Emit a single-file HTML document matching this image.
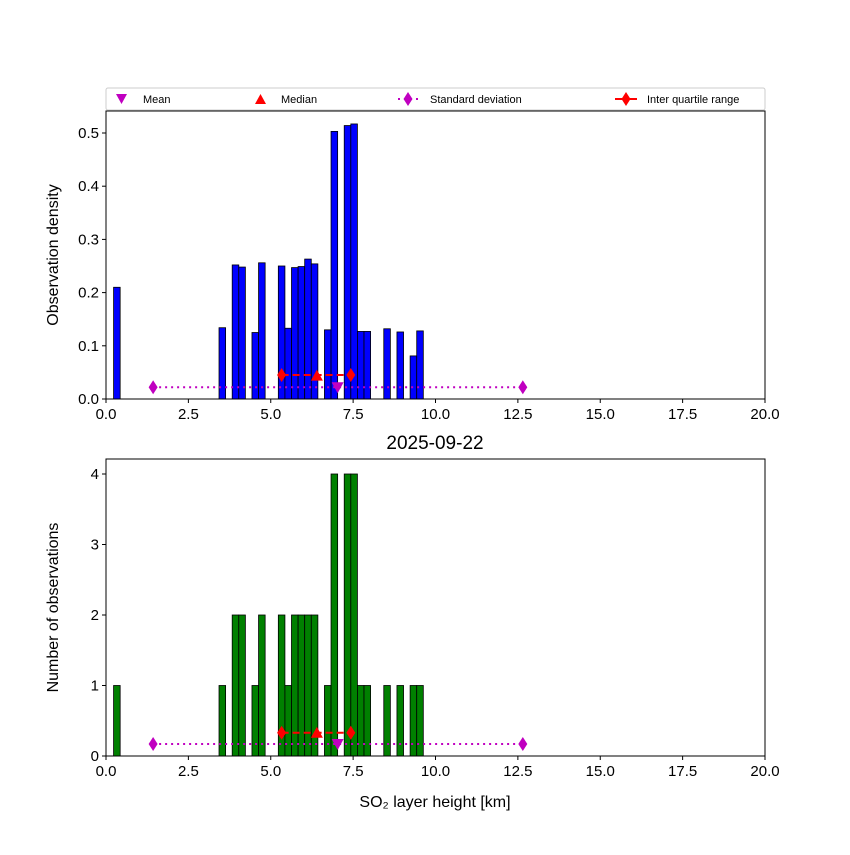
<!DOCTYPE html>
<html><head><meta charset="utf-8"><style>
body{margin:0;background:#fff}
svg{font-family:"Liberation Sans","DejaVu Sans",sans-serif}
</style></head><body>
<svg id="c" width="850" height="850" xmlns="http://www.w3.org/2000/svg"></svg>
<script>
const binEdges=[0.23,3.43,3.83,4.03,4.43,4.63,5.23,5.43,5.63,5.83,6.03,6.23,6.63,6.83,7.23,7.43,7.63,7.83,8.43,8.83,9.23,9.43];
const counts=[1,1,2,2,1,2,2,1,2,2,2,2,1,4,4,4,1,1,1,1,1,1];
const densities=[0.21,0.134,0.252,0.248,0.125,0.256,0.25,0.133,0.247,0.249,0.263,0.254,0.13,0.503,0.514,0.517,0.127,0.127,0.132,0.126,0.081,0.128];
const binWidth=0.2;
const xTicks=[0,2.5,5,7.5,10,12.5,15,17.5,20];
const xTickLabels=["0.0","2.5","5.0","7.5","10.0","12.5","15.0","17.5","20.0"];
const yTicksTop=[0,0.1,0.2,0.3,0.4,0.5];
const yTicksBot=[0,1,2,3,4];
const stats={mean:7.03,median:6.4,q1:5.33,q3:7.43,sdLo:1.43,sdHi:12.65};
const statYTop={mean:0.022,median:0.044,iqr:0.045,sd:0.022};
const statYBot={mean:0.17,median:0.33,iqr:0.33,sd:0.17};

const svg=document.getElementById('c');
const NS="http://www.w3.org/2000/svg";
function el(t,a,p){const e=document.createElementNS(NS,t);for(const k in a)e.setAttribute(k,a[k]);(p||svg).appendChild(e);return e;}
const X0=106,X1=765;
const xs=v=>X0+(v/20)*(X1-X0);

function panel(name,yT,yB,ymax,vals,color,ticks,tickFmt,ylabel,sy){
  const g=el('g',{});
  
  
  const ys=v=>yB-(v/ymax)*(yB-yT);
  binEdges.forEach((b,i)=>{
    const r=el('rect',{x:xs(b),y:ys(vals[i]),width:xs(b+binWidth)-xs(b),height:yB-ys(vals[i]),fill:color,stroke:'#000','stroke-width':0.8},g);
    
    
  });
  const sdl=el('line',{x1:xs(stats.sdLo),x2:xs(stats.sdHi),y1:ys(sy.sd),y2:ys(sy.sd),stroke:'#c000c0','stroke-width':2,'stroke-dasharray':'2,4'},g);
  
  
  [stats.sdLo,stats.sdHi].forEach(v=>{const d=el('path',{d:diamond(xs(v),ys(sy.sd)),fill:'#c000c0'},g);
    });
  const iq=el('line',{x1:xs(stats.q1),x2:xs(stats.q3),y1:ys(sy.iqr),y2:ys(sy.iqr),stroke:'#f00','stroke-width':2,'stroke-dasharray':'7,4'},g);
  
  
  [stats.q1,stats.q3].forEach(v=>{const d=el('path',{d:diamond(xs(v),ys(sy.iqr)),fill:'#f00'},g);
    });
  const mx=xs(stats.median),my=ys(sy.median);
  const md=el('path',{d:`M${mx-6},${my+5}L${mx+6},${my+5}L${mx},${my-6}Z`,fill:'#f00'},g);
  
  
  const ex=xs(stats.mean),ey=ys(sy.mean);
  const mn=el('path',{d:`M${ex-6},${ey-5}L${ex+6},${ey-5}L${ex},${ey+6}Z`,fill:'#c000c0'},g);
  
  
  el('rect',{x:X0,y:yT,width:X1-X0,height:yB-yT,fill:'none',stroke:'#000','stroke-width':1},g);
  xTicks.forEach((t,i)=>{
    el('line',{x1:xs(t),x2:xs(t),y1:yB,y2:yB+4,stroke:'#000'},g);
    const tx=el('text',{x:xs(t),y:yB+20,'text-anchor':'middle','font-size':15},g);tx.textContent=xTickLabels[i];
    
  });
  ticks.forEach(t=>{
    el('line',{x1:X0-4,x2:X0,y1:ys(t),y2:ys(t),stroke:'#000'},g);
    const tx=el('text',{x:X0-7,y:ys(t)+5,'text-anchor':'end','font-size':15},g);tx.textContent=tickFmt(t);
    
  });
  const yl=el('text',{x:0,y:0,'text-anchor':'middle','font-size':16,transform:`translate(58,${(yT+yB)/2}) rotate(-90)`},g);
  yl.textContent=ylabel;
  
  
}
function diamond(x,y){return `M${x},${y-7}L${x+4.5},${y}L${x},${y+7}L${x-4.5},${y}Z`;}

panel('density-panel',111,399,0.5/((399-133)/(399-111)),densities,'#0000ff',yTicksTop,t=>t.toFixed(1),'Observation density',statYTop);
panel('count-panel',459,756,4/((756-474)/(756-459)),counts,'#008000',yTicksBot,t=>String(t),'Number of observations',statYBot);

const ti=el('text',{x:435,y:449,'text-anchor':'middle','font-size':19});
ti.textContent='2025-09-22';


const xl=el('text',{x:435,y:807,'text-anchor':'middle','font-size':16});
xl.textContent='SO₂ layer height [km]';



const lg=el('g',{});


el('rect',{x:106,y:88,width:659,height:22,rx:2,fill:'#fff',stroke:'#ccc'},lg);
function lt(x,s,name){const t=el('text',{x:x,y:103,'font-size':11},lg);t.textContent=s;
  }
el('path',{d:'M116,94L127,94L121.5,104Z',fill:'#c000c0'},lg);lt(143,'Mean','legend-mean');
el('path',{d:'M255,104L266,104L260.5,94Z',fill:'#f00'},lg);lt(281,'Median','legend-median');
el('line',{x1:398,x2:418,y1:99,y2:99,stroke:'#c000c0','stroke-width':2,'stroke-dasharray':'2,4'},lg);
el('path',{d:diamond(408,99),fill:'#c000c0'},lg);lt(430,'Standard deviation','legend-std-dev');
el('line',{x1:615,x2:637,y1:99,y2:99,stroke:'#f00','stroke-width':2},lg);
el('path',{d:diamond(626,99),fill:'#f00'},lg);lt(647,'Inter quartile range','legend-iqr');
</script>
</body></html>
